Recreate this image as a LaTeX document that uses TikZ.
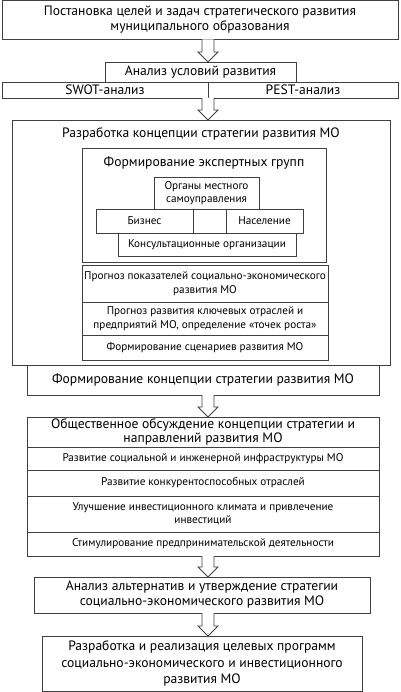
\documentclass[tikz,border=0pt]{standalone}
\usepackage{fontspec}
\setmainfont{PT Sans}
\usetikzlibrary{positioning,calc}

\newcommand{\bigtxt}{\fontsize{13.6}{15}\selectfont}
\newcommand{\smalltxt}{\fontsize{11.2}{13.5}\selectfont}

\tikzset{
  box/.style={draw=black!75, line width=0.8pt, inner sep=0pt, outer sep=0pt,
    align=center, font=\bigtxt},
  cell/.style={box, font=\smalltxt},
  hollow/.style={draw=black!75, line width=0.8pt, fill=white}
}

\begin{document}
\begin{tikzpicture}[x=1pt, y=-1pt]
  \useasboundingbox (0,0) rectangle (400,692);
  \coordinate (ax) at (208,0);

  % Goals and analysis
  \node[box, anchor=north west, minimum width=396, minimum height=39] (goal) at (2,0.5)
    {Постановка целей и задач стратегического развития\\муниципального образования};
  \node[box, anchor=north west, minimum width=191, minimum height=20] (cond) at (105,62)
    {Анализ условий развития};
  \node[box, anchor=north west, minimum width=206, minimum height=16] (swot) at (2,82) {SWOT-анализ};
  \node[box, minimum width=190, minimum height=16, right=0pt of swot] (pest) {PEST-анализ};

  % Concept development
  \node[box, anchor=north west, minimum width=378, minimum height=245] (dev) at (12,120) {};
  \node[anchor=base, font=\bigtxt] (devt) at ($(dev.north)+(0,18)$)
    {Разработка концепции стратегии развития МО};

  \node[box, anchor=north west, minimum width=244, minimum height=114] (expert) at (82,148) {};
  \node[anchor=base, font=\bigtxt] (expertt) at ($(expert.north)+(0,19)$)
    {Формирование экспертных групп};
  \node[cell, anchor=north west, minimum width=105, minimum height=32] (gov) at (154,177)
    {Органы местного\\самоуправления};
  \node[cell, anchor=north west, minimum width=97, minimum height=24] (biz) at (96,209) {Бизнес};
  \node[cell, minimum width=33, minimum height=24, right=0pt of biz] (mid) {};
  \node[cell, minimum width=77, minimum height=24, right=0pt of mid] (pop) {Население};
  \node[cell, anchor=north west, minimum width=178, minimum height=23] (cons) at (118,233)
    {Консультационные организации};

  \node[cell, anchor=north west, minimum width=246, minimum height=37] (fc1) at (82,265)
    {Прогноз показателей социально-экономического\\развития МО};
  \node[cell, minimum width=246, minimum height=33, below=0pt of fc1] (fc2)
    {Прогноз развития ключевых отраслей и\\предприятий МО, определение «точек роста»};
  \node[cell, minimum width=246, minimum height=25, below=0pt of fc2] (fc3)
    {Формирование сценариев развития МО};

  \node[box, anchor=north west, minimum width=352, minimum height=30] (form) at (27,365)
    {Формирование концепции стратегии развития МО};

  % Public discussion
  \node[box, anchor=north west, minimum width=352, minimum height=30,
    font=\fontsize{13.6}{13.5}\selectfont] (disc) at (27,417)
    {Общественное обсуждение концепции стратегии и\\направлений развития МО};
  \node[cell, minimum width=352, minimum height=23, below=0pt of disc] (dr1)
    {Развитие социальной и инженерной инфраструктуры МО};
  \node[cell, minimum width=352, minimum height=26, below=0pt of dr1] (dr2)
    {Развитие конкурентоспособных отраслей};
  \node[cell, minimum width=352, minimum height=36, below=0pt of dr2] (dr3)
    {Улучшение инвестиционного климата и привлечение\\инвестиций};
  \node[cell, minimum width=352, minimum height=24, below=0pt of dr3] (dr4)
    {Стимулирование предпринимательской деятельности};

  % Approval and programmes
  \node[box, anchor=north west, minimum width=336, minimum height=36] (alt) at (34,577)
    {Анализ альтернатив и утверждение стратегии\\социально-экономического развития МО};
  \node[box, anchor=north west, minimum width=320, minimum height=55,
    font=\fontsize{13.6}{16.5}\selectfont] (prog) at (42,636)
    {Разработка и реализация целевых программ\\социально-экономического и инвестиционного\\развития МО};

  % Hollow arrows
  \foreach \a/\b in {goal/cond, swot/dev, form/disc, dr4/alt, alt/prog}
    \draw[hollow] ($(\a.south -| ax)+(-6,0)$) -- ($(\b.north -| ax)+(-6,-10)$)
      -- ($(\b.north -| ax)+(-10,-10)$) -- (\b.north -| ax)
      -- ($(\b.north -| ax)+(10,-10)$) -- ($(\b.north -| ax)+(6,-10)$)
      -- ($(\a.south -| ax)+(6,0)$);

\end{tikzpicture}
\end{document}
